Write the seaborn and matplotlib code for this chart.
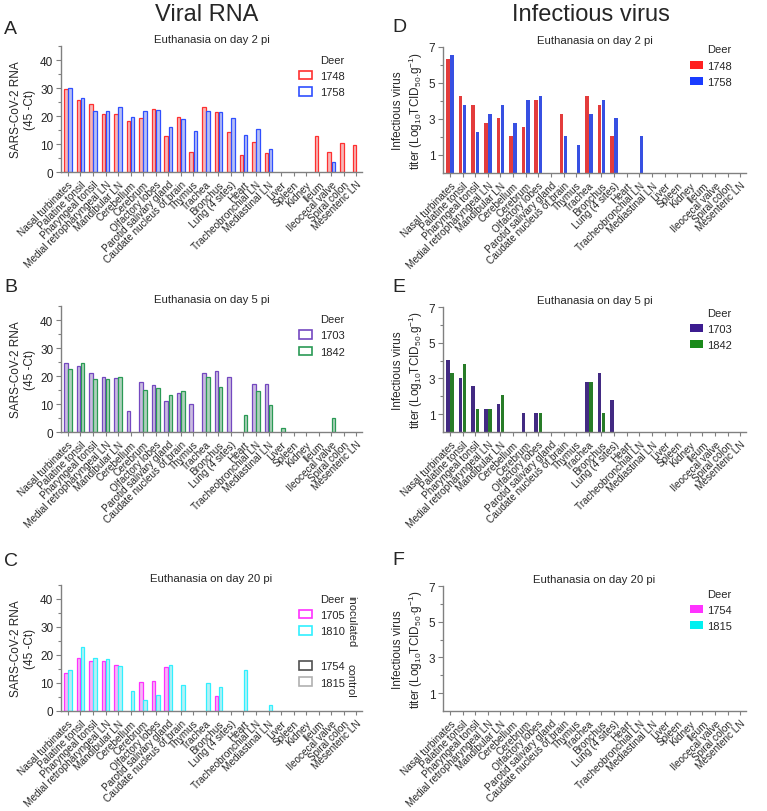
import numpy as np
import pandas as pd
import seaborn as sns
import matplotlib.pyplot as plt
from matplotlib.patches import Patch
from matplotlib.colors import to_rgb

sns.set_theme(style="ticks")
plt.rcParams['font.family'] = ['Liberation Sans', 'DejaVu Sans']
plt.rcParams['mathtext.fontset'] = 'custom'
plt.rcParams['mathtext.rm'] = 'Liberation Sans'
plt.rcParams['mathtext.it'] = 'Liberation Sans:italic'

tissues = ['Nasal turbinates', 'Palatine tonsil', 'Pharyngeal tonsil',
           'Medial retropharyngeal LN', 'Mandibular LN', 'Cerebellum',
           'Cerebrum', 'Olfactory lobes', 'Parotid salivary gland',
           'Caudate nucleus of brain', 'Thymus', 'Trachea', 'Bronchus',
           'Lung (4 sites)', 'Heart', 'Tracheobronchial LN', 'Mediastinal LN',
           'Liver', 'Spleen', 'Kidney', 'Ileum', 'Ileocecal valve',
           'Spiral colon', 'Mesenteric LN']

# viral RNA (45 - Ct)
rna_d2_1748 = [29.8, 25.7, 24.3, 20.8, 20.8, 18.1, 19.4, 22.5, 12.9, 19.8, 7.0, 23.3,
               21.4, 14.4, 6.0, 10.8, 6.9, 0, 0, 0, 12.7, 7.2, 10.5, 9.6]
rna_d2_1758 = [30.0, 26.5, 21.7, 21.8, 23.1, 19.8, 21.9, 22.0, 16.2, 18.9, 14.8, 21.7,
               21.4, 19.4, 13.1, 15.5, 8.2, 0, 0, 0, 0, 3.4, 0, 0]
rna_d5_1703 = [24.6, 23.5, 21.1, 19.5, 19.3, 7.5, 17.9, 16.7, 11.2, 13.9, 10.0, 21.2,
               21.8, 19.5, 0, 17.3, 17.1, 0, 0, 0, 0, 0, 0, 0]
rna_d5_1842 = [22.6, 24.6, 18.8, 19.0, 19.5, 0, 15.1, 15.7, 13.1, 14.8, 0, 19.5,
               15.9, 0, 6.2, 14.5, 9.6, 1.6, 0, 0, 0, 4.9, 0, 0]
rna_d20_1705 = [13.6, 18.8, 17.7, 17.7, 16.4, 0, 10.2, 10.6, 15.7, 0, 0, 0,
                5.3, 0, 0, 0, 0, 0, 0, 0, 0, 0, 0, 0]
rna_d20_1810 = [14.5, 22.7, 18.8, 18.6, 16.2, 7.3, 3.8, 5.6, 16.5, 9.3, 0, 10.0,
                8.6, 0, 14.5, 0, 2.2, 0, 0, 0, 0, 0, 0, 0]

# infectious virus titer (log10 TCID50/g)
inf_d2_1748 = [6.35, 4.3, 3.8, 2.8, 3.05, 2.05, 2.55, 4.05, 0, 3.3, 0, 4.3,
               3.8, 2.05, 0, 0, 0, 0, 0, 0, 0, 0, 0, 0]
inf_d2_1758 = [6.55, 3.8, 2.3, 3.3, 3.8, 2.8, 4.05, 4.3, 0, 2.05, 1.55, 3.3,
               4.05, 3.05, 0, 2.05, 0, 0, 0, 0, 0, 0, 0, 0]
inf_d5_1703 = [4.05, 3.05, 2.55, 1.3, 1.55, 0, 1.05, 1.05, 0, 0, 0, 2.8,
               3.3, 1.8, 0, 0, 0, 0, 0, 0, 0, 0, 0, 0]
inf_d5_1842 = [3.3, 3.8, 1.3, 1.3, 2.05, 0, 0, 1.05, 0, 0, 0, 2.8,
               1.05, 0, 0, 0, 0, 0, 0, 0, 0, 0, 0, 0]
inf_d20_1754 = [0] * 24
inf_d20_1815 = [0] * 24

GRAY = '#808080'


def lighten(c, f):
    r = np.array(to_rgb(c))
    return tuple(r + (1 - r) * f)


def long_table(ids, series):
    rows = []
    for d, vals in zip(ids, series):
        for t, v in zip(tissues, vals):
            rows.append((t, d, v))
    return pd.DataFrame(rows, columns=['tissue', 'deer', 'value'])


def draw_panel(ax, ids, series, colors, hollow, rna, title):
    df = long_table(ids, series)
    pal = {d: (lighten(c, 0.6) if hollow else c) for d, c in zip(ids, colors)}
    sns.barplot(data=df, x='tissue', y='value', hue='deer', order=tissues,
                hue_order=ids, palette=pal, width=0.66, gap=0.15, errorbar=None,
                legend=False, linewidth=0, ax=ax)
    for cont, c in zip(ax.containers, colors):
        for p in cont:
            if p.get_height() == 0:
                p.set_visible(False)
            elif hollow:
                p.set_edgecolor(c)
                p.set_linewidth(0.9)

    ax.set_xlim(-0.55, 23.45)
    if rna:
        ax.set_ylim(0, 45)
        ax.set_yticks([0, 10, 20, 30, 40])
        ax.set_yticks([5, 15, 25, 35, 45], minor=True)
        ax.set_ylabel('SARS-CoV-2 RNA\n(45 -Ct)', fontsize=8.5, labelpad=3)
    else:
        ax.set_ylim(0, 7)
        ax.set_yticks([1, 3, 5, 7])
        ax.set_yticks([2, 4, 6], minor=True)
        ax.set_ylabel('Infectious virus\ntiter (Log$_{10}$TCID$_{50}$.g$^{-1}$)',
                      fontsize=8.5, labelpad=3)
    ax.set_xlabel('')
    ax.set_xticks(range(len(tissues)))
    ax.set_xticklabels(tissues, rotation=45, ha='right', rotation_mode='anchor',
                       fontsize=7.2)
    ax.tick_params(axis='x', length=3, pad=2, color=GRAY, width=0.8)
    ax.tick_params(axis='y', which='major', length=3.5, labelsize=8.5, pad=2,
                   color=GRAY, width=0.8)
    ax.tick_params(axis='y', which='minor', length=2, color=GRAY, width=0.8)
    sns.despine(ax=ax)
    for s in ['left', 'bottom']:
        ax.spines[s].set_color(GRAY)
        ax.spines[s].set_linewidth(1)
    ax.set_title(title, fontsize=8.2, pad=3)

    handles = [Patch(facecolor='white' if hollow else c, edgecolor=c,
                     linewidth=1.2 if hollow else 0, label=d)
               for d, c in zip(ids, colors)]
    return handles


fig = plt.figure(figsize=(7.67, 8.12), dpi=100)
W, H = 767, 812


def make_ax(x0, x1, top, bottom):
    return fig.add_axes([x0 / W, 1 - bottom / H, (x1 - x0) / W, (bottom - top) / H])


axA = make_ax(61, 362, 47, 173)
axB = make_ax(61, 362, 307, 433)
axC = make_ax(61, 362, 586, 712)
axD = make_ax(443, 746, 48, 174)
axE = make_ax(443, 746, 308, 433)
axF = make_ax(443, 746, 587, 712)

leg_kw = dict(frameon=False, loc='upper left', fontsize=8, title_fontsize=8,
              handlelength=1.2, handleheight=0.8, labelspacing=0.55,
              borderpad=0, borderaxespad=0, alignment='right')

h = draw_panel(axA, ['1748', '1758'], [rna_d2_1748, rna_d2_1758],
               ['#ff3030', '#2f4fff'], True, True, 'Euthanasia on day 2 pi')
axA.legend(handles=h, title='Deer', bbox_to_anchor=(0.79, 0.93),
           handletextpad=0.7, **leg_kw)

h = draw_panel(axB, ['1703', '1842'], [rna_d5_1703, rna_d5_1842],
               ['#7448c0', '#2a9a55'], True, True, 'Euthanasia on day 5 pi')
axB.legend(handles=h, title='Deer', bbox_to_anchor=(0.79, 0.935),
           handletextpad=0.7, **leg_kw)

h = draw_panel(axC, ['1705', '1810'], [rna_d20_1705, rna_d20_1810],
               ['#ff30ff', '#30f0ff'], True, True, 'Euthanasia on day 20 pi')
legC = axC.legend(handles=h, title='Deer', bbox_to_anchor=(0.79, 0.93),
                  handletextpad=0.7, **leg_kw)
axC.add_artist(legC)
ctrl = [Patch(facecolor='white', edgecolor='#505050', linewidth=1.2, label='1754'),
        Patch(facecolor='white', edgecolor='#b0b0b0', linewidth=1.2, label='1815')]
axC.legend(handles=ctrl, bbox_to_anchor=(0.79, 0.395), handletextpad=0.7, **leg_kw)
axC.text(0.963, 0.72, 'inoculated', rotation=270, transform=axC.transAxes,
         ha='center', va='center', fontsize=8)
axC.text(0.963, 0.25, 'control', rotation=270, transform=axC.transAxes,
         ha='center', va='center', fontsize=8)

h = draw_panel(axD, ['1748', '1758'], [inf_d2_1748, inf_d2_1758],
               ['#ff2020', '#1a3cff'], False, False, 'Euthanasia on day 2 pi')
axD.legend(handles=h, title='Deer', bbox_to_anchor=(0.815, 1.02),
           handletextpad=0.3, **leg_kw)

h = draw_panel(axE, ['1703', '1842'], [inf_d5_1703, inf_d5_1842],
               ['#3c1c90', '#1a8a1a'], False, False, 'Euthanasia on day 5 pi')
axE.legend(handles=h, title='Deer', bbox_to_anchor=(0.815, 0.995),
           handletextpad=0.3, **leg_kw)

h = draw_panel(axF, ['1754', '1815'], [inf_d20_1754, inf_d20_1815],
               ['#ff33ff', '#00f0f0'], False, False, 'Euthanasia on day 20 pi')
axF.set_ylabel('Infectious virus\ntiter (Log$_{10}$TCID$_{50}$·g$^{-1}$)',
               fontsize=8.5, labelpad=3)
axF.legend(handles=h, title='Deer', bbox_to_anchor=(0.815, 0.98),
           handletextpad=0.3, **leg_kw)

fig.text(207 / W, 1 - 15 / H, 'Viral RNA', fontsize=17, ha='center', va='center')
fig.text(591 / W, 1 - 15 / H, 'Infectious virus', fontsize=17, ha='center', va='center')
for letter, x, y in [('A', 4, 29), ('B', 4, 288), ('C', 4, 562),
                     ('D', 392, 27), ('E', 392, 288), ('F', 392, 561)]:
    fig.text(x / W, 1 - y / H, letter, fontsize=14, ha='left', va='center')

fig.savefig('out.png', dpi=100)
